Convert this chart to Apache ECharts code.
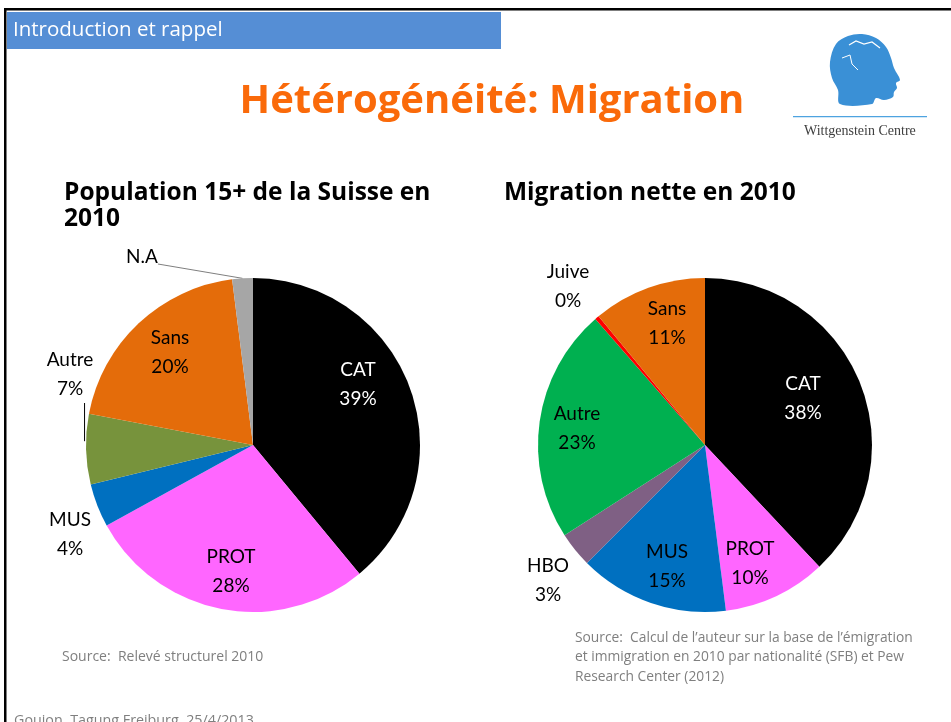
<!DOCTYPE html>
<html>
<head>
<meta charset="utf-8">
<script src="https://cdn.jsdelivr.net/npm/echarts@6/dist/echarts.min.js"></script>
<style>
  html, body { margin: 0; padding: 0; background: #fff; }
  #chart { width: 951px; height: 722px; }
</style>
</head>
<body>
<div id="chart"></div>
<script>
// Population 15+ de la Suisse en 2010
const leftNames = ['CAT', 'PROT', 'MUS', 'Autre', 'Sans', 'N.A']
const leftValues = [39, 28, 4.2, 6.8, 20, 2]
const leftColors = ['#000000', '#ff66ff', '#0070c0', '#77933c', '#e46c0a', '#a6a6a6']

// Migration nette en 2010
const rightNames = ['CAT', 'PROT', 'MUS', 'HBO', 'Autre', 'Juive', 'Sans']
const rightValues = [38, 10, 14.5, 3.4, 22.7, 0.4, 11]
const rightColors = ['#000000', '#ff66ff', '#0070c0', '#7f6084', '#00b050', '#ff0000', '#e46c0a']

const LABEL_FONT = 'Lato, "Open Sans", sans-serif'
const FONT = '"Open Sans", Lato, sans-serif'
const RADIUS = 167

const chart = echarts.init(document.getElementById('chart'))

// where Excel put the labels (label centres)
const leftLabelAt = [[358, 384], [231, 571], [70, 534], [70, 374], [170, 352], [142, 257]]
const rightLabelAt = [[803, 398], [750, 563], [667, 566], [548, 580], [577, 428], [568, 286], [667, 323]]

// point on the rim in the middle of slice idx
function rimPoint(center, values, idx) {
  const total = values.reduce((a, b) => a + b, 0)
  let before = 0
  for (let i = 0; i < idx; i++) before += values[i]
  const a = (before + values[idx] / 2) / total * Math.PI * 2
  return [center[0] + RADIUS * Math.sin(a), center[1] - RADIUS * Math.cos(a)]
}

function buildData(names, values, colors, lines) {
  return names.map((name, i) => {
    const item = {
      name,
      value: values[i],
      itemStyle: { color: colors[i] },
      label: { color: name === 'CAT' ? '#ffffff' : '#000000' },
    }
    if (lines[name]) {
      item.labelLine = { show: true, lineStyle: { color: lines[name], width: 1 } }
    }
    return item
  })
}

function pieSeries(center, names, values, colors, labelAt, lines) {
  return {
    type: 'pie',
    center,
    radius: RADIUS,
    startAngle: 90,
    clockwise: true,
    avoidLabelOverlap: false,
    animation: false,
    silent: true,
    label: {
      show: true,
      position: 'outside',
      fontFamily: LABEL_FONT,
      fontSize: 19,
      lineHeight: 29,
      align: 'center',
      formatter: p => (p.name === 'N.A' ? p.name : p.name + '\n' + Math.round(p.percent) + '%'),
    },
    labelLine: { show: false, length: 5, length2: 5 },
    labelLayout: params => {
      const i = params.dataIndex
      const pos = labelAt[i]
      const res = { x: pos[0], y: pos[1], align: 'center', verticalAlign: 'middle' }
      const w = params.labelRect.width
      const h = params.labelRect.height
      const p0 = rimPoint(center, values, i)
      if (names[i] === 'N.A') {
        const end = [pos[0] + w / 2, pos[1] + 7]
        res.labelLinePoints = [p0, end, end]
      } else if (lines[names[i]]) {
        const x = p0[0] - 1.5
        const end = [x, pos[1] + h / 2]
        res.labelLinePoints = [[x, p0[1] - 8], end, end]
      }
      return res
    },
    data: buildData(names, values, colors, lines),
  }
}

const option = {
  backgroundColor: '#ffffff',
  title: [
    {
      text: 'Hétérogénéité: Migration',
      left: 487,
      top: 77,
      textAlign: 'center',
      textStyle: { fontFamily: FONT, fontWeight: 'bold', fontSize: 40, color: '#fa6a0a' },
    },
    {
      text: 'Population 15+ de la Suisse en\n2010',
      left: 59,
      top: 175,
      textStyle: { fontFamily: FONT, fontWeight: 'bold', fontSize: 24.5, lineHeight: 26, color: '#000' },
    },
    {
      text: 'Migration nette en 2010',
      left: 499,
      top: 175,
      textStyle: { fontFamily: FONT, fontWeight: 'bold', fontSize: 24.5, lineHeight: 26, color: '#000' },
    },
  ],
  graphic: [
    // slide frame
    { type: 'rect', shape: { x: 4, y: 8, width: 947, height: 2.5 }, style: { fill: '#000' } },
    { type: 'rect', shape: { x: 4, y: 8, width: 2.5, height: 714 }, style: { fill: '#000' } },
    // section header
    { type: 'rect', shape: { x: 7, y: 12, width: 494, height: 37 }, style: { fill: '#558ed5' } },
    {
      type: 'text', left: 13, top: 20,
      style: { text: 'Introduction et rappel', fill: '#fff', font: '20.5px ' + FONT },
    },
    // Wittgenstein Centre logo
    {
      type: 'polygon',
      shape: {
        smooth: 0.35,
        points: [
          [836, 44], [848, 36], [862, 34], [876, 38], [886, 47], [891, 58],
          [894, 68], [900, 80], [896, 83], [897, 88], [894, 92], [893, 97],
          [884, 100], [876, 98], [872, 104], [840, 104], [838, 90], [832, 78],
          [830, 62],
        ],
      },
      style: { fill: '#3a90d6' },
    },
    {
      type: 'polyline',
      shape: { points: [[849, 45], [856, 41], [864, 44], [872, 42], [880, 48]] },
      style: { stroke: '#ffffff', lineWidth: 1.2, fill: null },
    },
    {
      type: 'polyline',
      shape: { points: [[842, 58], [850, 55], [852, 64], [858, 70]] },
      style: { stroke: '#ffffff', lineWidth: 1, fill: null },
    },
    { type: 'rect', shape: { x: 793, y: 116, width: 134, height: 1.2 }, style: { fill: '#4ea3e0' } },
    {
      type: 'text', left: 804, top: 124,
      style: { text: 'Wittgenstein Centre', fill: '#404040', font: '14px "Liberation Serif", "DejaVu Serif", serif' },
    },
    // sources and footer
    {
      type: 'text', left: 62, top: 650,
      style: { text: 'Source:  Relevé structurel 2010', fill: '#7f7f7f', font: '14px ' + FONT },
    },
    {
      type: 'text', left: 575, top: 628,
      style: {
        text: 'Source:  Calcul de l\u2019auteur sur la base de l\u2019émigration\net immigration en 2010 par nationalité (SFB) et Pew\nResearch Center (2012)',
        fill: '#7f7f7f', font: '13.8px ' + FONT, lineHeight: 19.5,
      },
    },
    {
      type: 'text', left: 14, top: 714,
      style: { text: 'Goujon, Tagung Freiburg, 25/4/2013', fill: '#7f7f7f', font: '14.3px ' + FONT },
    },
  ],
  series: [
    pieSeries([253, 445], leftNames, leftValues, leftColors, leftLabelAt, { 'N.A': '#7f7f7f', Autre: '#000000' }),
    pieSeries([705, 445], rightNames, rightValues, rightColors, rightLabelAt, {}),
  ],
}

chart.setOption(option)
</script>
</body>
</html>
